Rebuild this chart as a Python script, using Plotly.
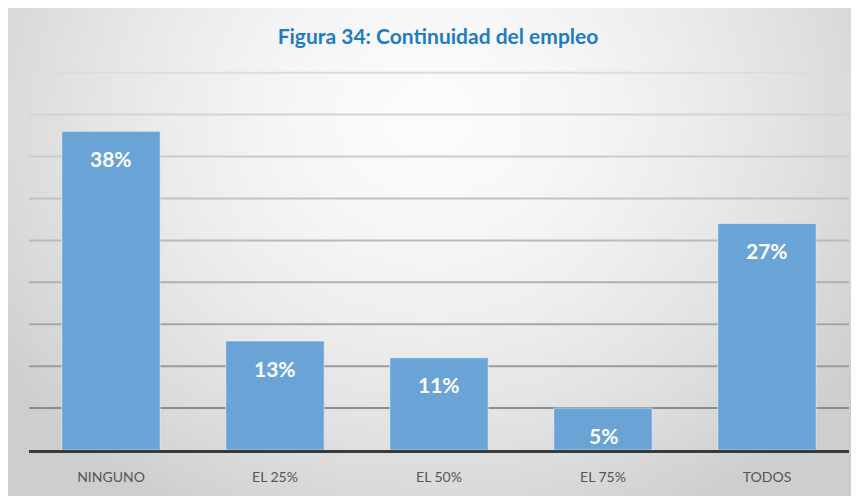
import base64, struct, zlib, math
import plotly.graph_objects as go

categories = ["NINGUNO", "EL 25%", "EL 50%", "EL 75%", "TODOS"]
values = [38, 13, 11, 5, 27]
title_text = "Figura 34: Continuidad del empleo"
grid_values = [5, 10, 15, 20, 25, 30, 35, 40, 45]

# the page has an 8px body margin, so the figure is drawn 8px right/down
W, H = 851, 488
ML, MR, MT, MB = 21, 10, 63, 46


def gradient_png(w, h):
    rows = []
    for j in range(h):
        row = bytearray([0])
        for i in range(w):
            dx = (i / (w - 1) - 0.5) / 0.62
            dy = (j / (h - 1) - 0.22) / 0.95
            d = min(1.0, math.sqrt(dx * dx + dy * dy))
            v = int(252 - 46 * d ** 1.6)
            row.append(v)
        rows.append(bytes(row))
    raw = b"".join(rows)

    def chunk(t, d):
        c = struct.pack(">I", len(d)) + t + d
        return c + struct.pack(">I", zlib.crc32(t + d) & 0xffffffff)

    png = b"\x89PNG\r\n\x1a\n"
    png += chunk(b"IHDR", struct.pack(">IIBBBBB", w, h, 8, 0, 0, 0, 0))
    png += chunk(b"IDAT", zlib.compress(raw, 9))
    png += chunk(b"IEND", b"")
    return "data:image/png;base64," + base64.b64encode(png).decode()


pw = W - ML - MR
ph = H - MT - MB
fx0, fx1, fy0, fy1 = 0, 844, 0, 488

fig = go.Figure()

# shaded gridlines (darker near the bottom, lighter near the top)
gmin, gmax = min(grid_values), max(grid_values)
for g in grid_values:
    t = (g - gmin) / (gmax - gmin)
    c = int(140 + (220 - 140) * t ** 0.8)
    fig.add_shape(type="line", xref="paper", yref="y", x0=0, x1=1, y0=g, y1=g,
                  line=dict(color=f"rgb({c},{c},{c})", width=2), layer="below")

fig.add_trace(go.Bar(
    x=categories, y=values,
    marker=dict(color="#6aa3d6", line=dict(color="rgba(255,255,255,0.5)", width=1)),
    hoverinfo="skip",
))

for c, v in zip(categories, values):
    fig.add_annotation(x=c, y=v, text=f"<b>{v}%</b>", showarrow=False,
                       yshift=-27, font=dict(family="Lato", size=21, color="white"))

fig.add_layout_image(dict(
    source=gradient_png(172, 98), xref="paper", yref="paper",
    x=(fx0 - ML) / pw, y=1 + (MT - fy0) / ph,
    sizex=(fx1 - fx0) / pw, sizey=(fy1 - fy0) / ph,
    xanchor="left", yanchor="top", sizing="stretch", layer="below",
))

fig.update_layout(
    width=W, height=H,
    margin=dict(l=ML, r=MR, t=MT, b=MB),
    paper_bgcolor="white", plot_bgcolor="rgba(0,0,0,0)",
    bargap=0.40,
    showlegend=False,
    title=dict(text=f"<b>{title_text}</b>", x=430 / W, xanchor="center",
               xref="container",
               y=1 - 29 / H, yanchor="middle",
               font=dict(family="Lato", size=21, color="#1e7bc4")),
    xaxis=dict(showline=True, linecolor="#3a3a3a", linewidth=3,
               ticks="outside", ticklen=12, tickcolor="rgba(0,0,0,0)",
               tickfont=dict(family="Lato", size=14, color="#555555"),
               showgrid=False),
    yaxis=dict(range=[0, 45.2], showticklabels=False,
               showgrid=False, zeroline=False),
)

fig.write_html("out.html")
